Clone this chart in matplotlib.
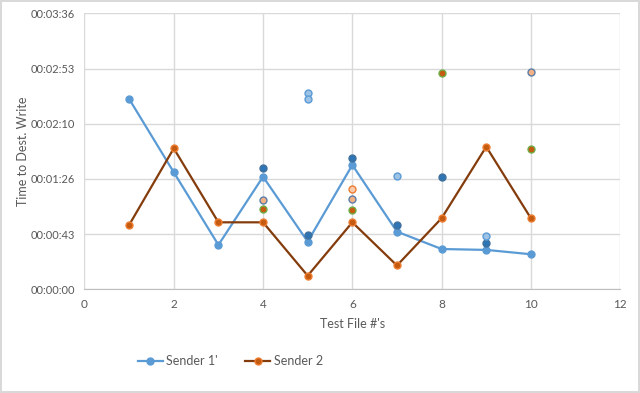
import matplotlib.pyplot as plt
from matplotlib.ticker import FuncFormatter, MultipleLocator

plt.rcParams['font.family'] = ['Lato', 'DejaVu Sans']

# x positions (test file numbers)
files = [1, 2, 3, 4, 5, 6, 7, 8, 9, 10]

# times in seconds
sender1 = [149, 91.6, 34.7, 88.1, 37.3, 97.3, 45.1, 31.5, 30.8, 27.4]
sender2 = [50.3, 110.3, 52.4, 52.4, 10.6, 52.4, 18.6, 55.6, 111.6, 55.6]

# extra unlabeled series (markers only)
dark_x = [4, 5, 6, 7, 8, 9]
dark_y = [94.7, 42.5, 102.5, 50.3, 88.1, 36.0]
light_x = [5, 5, 7, 9]
light_y = [153.9, 148.7, 88.7, 41.9]
peach_x = [4, 6, 10]
peach_y = [69.9, 70.7, 169.8]
peach2_x = [6]
peach2_y = [78.3]
green_x = [4, 6, 8, 10]
green_y = [62.6, 62.1, 169.0, 109.8]


def hms(v, pos):
    t = int(round(v))
    return "%02d:%02d:%02d" % (t // 3600, (t % 3600) // 60, t % 60)


fig = plt.figure(figsize=(6.4, 3.93), dpi=100)
fig.patch.set_edgecolor('#D9D9D9')
fig.patch.set_linewidth(1.5)
ax = fig.add_axes([0.132, 0.264, 0.837, 0.702])

ms = 5
ax.plot(files, sender1, color='#5B9BD5', lw=1.6, marker='o', ms=ms,
        mfc='#5B9BD5', mec='#5B9BD5', label="Sender 1'", zorder=3)
ax.plot(files, sender2, color='#843C0C', lw=1.6, marker='o', ms=ms,
        mfc='#C55A11', mec='#ED7D31', label="Sender 2", zorder=3)

ax.plot(dark_x, dark_y, ls='none', marker='o', ms=ms, mfc='#2E75B6', mec='#41719C', zorder=4)
ax.plot(light_x, light_y, ls='none', marker='o', ms=ms, mfc='#9DC3E6', mec='#5B9BD5', zorder=4)
ax.plot(peach_x, peach_y, ls='none', marker='o', ms=ms, mfc='#F4B183', mec='#5A7DA8', zorder=4)
ax.plot(peach2_x, peach2_y, ls='none', marker='o', ms=ms, mfc='#F8CBAD', mec='#ED7D31', zorder=4)
ax.plot(green_x, green_y, ls='none', marker='o', ms=ms, mfc='#C55A11', mec='#70AD47', zorder=4)

ax.set_xlim(0, 12)
ax.set_ylim(0, 216)
ax.xaxis.set_major_locator(MultipleLocator(2))
ax.yaxis.set_major_locator(MultipleLocator(43.2))
ax.yaxis.set_major_formatter(FuncFormatter(hms))

ax.grid(True, color='#D9D9D9', lw=1)
ax.set_axisbelow(True)
for s in ['top', 'right', 'left']:
    ax.spines[s].set_visible(False)
ax.spines['bottom'].set_color('#BFBFBF')
ax.tick_params(length=0, labelsize=8, colors='#595959')
ax.tick_params(axis='y', pad=7)
ax.tick_params(axis='x', pad=7, labelsize=8.5)

ax.set_xlabel("Test File #'s", fontsize=9, color='#595959', labelpad=6)
ax.set_ylabel("Time to Dest. Write", fontsize=9, color='#595959', labelpad=1)

leg = fig.legend(loc='center', bbox_to_anchor=(0.36, 0.081), ncol=2, frameon=False,
                 fontsize=9, handlelength=2.0, handletextpad=0.3, columnspacing=2.2)
for t in leg.get_texts():
    t.set_color('#595959')

fig.savefig('out.png', dpi=100)
